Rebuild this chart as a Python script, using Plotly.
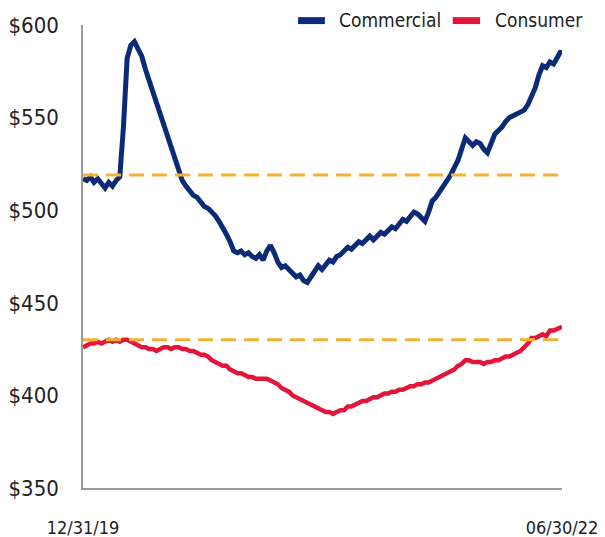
import pandas as pd
import plotly.graph_objects as go

# Weekly observations from 12/31/19, plus the final 06/30/22 point
dates = list(pd.date_range("2019-12-31", periods=131, freq="7D")) + [pd.Timestamp("2022-06-30")]

commercial = [
    517, 516, 518, 515, 517, 514, 512, 515, 513, 516,
    518, 545, 582, 589, 591, 587, 583, 576, 570, 564,
    558, 552, 546, 540, 533, 527, 522, 516, 513, 510,
    508, 507, 504, 502, 501, 499, 497, 494, 491, 487,
    483, 478, 477, 478, 476, 477, 475, 474, 476, 473,
    478, 481, 477, 472, 469, 470, 468, 466, 464, 465,
    462, 461, 464, 467, 470, 468, 471, 473, 472, 475,
    476, 478, 480, 479, 481, 483, 482, 484, 486, 484,
    486, 488, 487, 489, 491, 490, 493, 495, 494, 497,
    499, 498, 496, 494, 499, 505, 507, 510, 513, 515,
    519, 523, 527, 533, 539, 537, 535, 537, 536, 533,
    531, 536, 541, 543, 545, 548, 550, 551, 552, 553,
    554, 557, 561, 566, 573, 578, 577, 580, 579, 583,
    586, 584,
]

consumer = [
    426, 427, 428, 428, 429, 428, 429, 430, 429, 430,
    429, 430, 430, 429, 428, 427, 426, 426, 425, 425,
    424, 425, 426, 426, 425, 426, 426, 425, 425, 424,
    424, 423, 422, 422, 421, 419, 418, 417, 416, 416,
    414, 413, 412, 412, 411, 410, 410, 409, 409, 409,
    409, 408, 407, 406, 404, 403, 402, 400, 399, 398,
    397, 396, 395, 394, 393, 392, 391, 391, 390, 391,
    392, 392, 394, 394, 395, 396, 397, 397, 398, 399,
    399, 400, 401, 401, 402, 402, 403, 403, 404, 405,
    405, 406, 406, 407, 407, 408, 409, 410, 411, 412,
    413, 414, 416, 417, 419, 419, 418, 418, 418, 417,
    418, 418, 419, 419, 420, 421, 421, 422, 423, 424,
    426, 428, 431, 431, 432, 433, 432, 435, 435, 436,
    437, 437,
]

# Reference levels drawn as dashed lines
commercial_ref = 519
consumer_ref = 430

y_ticks = [350, 400, 450, 500, 550, 600]
y_tick_labels = ["$350", "$400", "$450", "$500", "$550", "$600"]
x_ticks = ["2019-12-31", "2022-06-30"]
x_tick_labels = ["12/31/19", "06/30/22"]

series = [("Commercial", commercial, "#0b2a78", 5), ("Consumer", consumer, "#e3163a", 4.5)]
AMBER = "#f4b133"
FONT = "DejaVu Sans Condensed, Liberation Sans, sans-serif"
TEXT = "#222222"

fig = go.Figure()
for name, values, color, width in series:
    fig.add_trace(go.Scatter(x=dates, y=values, mode="lines", name=name,
                             line=dict(color=color, width=width), showlegend=False))

for level in (commercial_ref, consumer_ref):
    fig.add_shape(type="line", xref="paper", x0=0, x1=1.0, yref="y", y0=level, y1=level,
                  line=dict(color=AMBER, width=3, dash="15px,8px"), layer="above")

# Legend row above the top-right corner of the plot (paper coordinates)
legend_items = [(0.449, 0.505, 0.530), (0.772, 0.829, 0.856)]
for (x0, x1, xt), (name, _, color, _) in zip(legend_items, series):
    fig.add_shape(type="rect", xref="paper", yref="paper", x0=x0, x1=x1, y0=1.002, y1=1.017,
                  fillcolor=color, line=dict(width=0))
    fig.add_annotation(xref="paper", yref="paper", x=xt, y=1.011, xanchor="left",
                       yanchor="middle", text=name, showarrow=False,
                       font=dict(size=19, family=FONT, color=TEXT))

fig.update_layout(
    width=605, height=537,
    margin=dict(l=83, r=43, t=25, b=49),
    paper_bgcolor="white", plot_bgcolor="white",
    font=dict(family=FONT, color=TEXT),
    showlegend=False,
    xaxis=dict(range=["2019-12-31", "2022-06-30"], tickmode="array",
               tickvals=x_ticks, ticktext=x_tick_labels, showgrid=False, zeroline=False,
               showline=True, linecolor="#9a9a9a", linewidth=2, ticks="",
               automargin=False, ticklabelstandoff=22, tickfont=dict(size=18)),
    yaxis=dict(range=[350, 600], tickmode="array", tickvals=y_ticks,
               ticktext=y_tick_labels, showgrid=False, zeroline=False,
               showline=True, linecolor="#9a9a9a", linewidth=1.5, ticks="",
               automargin=False, ticklabelstandoff=18, tickfont=dict(size=22)),
)

fig.write_html("out.html")
